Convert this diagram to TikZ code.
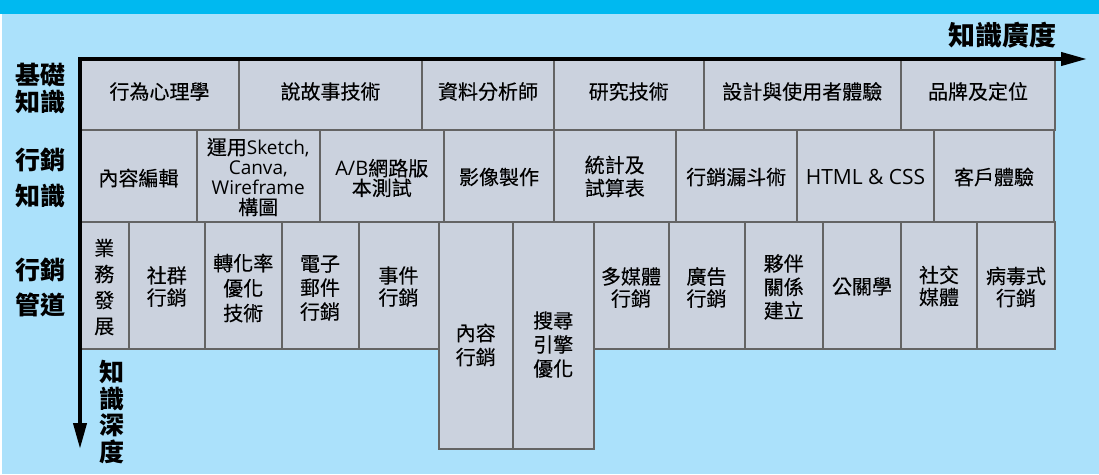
\documentclass[tikz,border=0pt]{standalone}
\usepackage{fontspec}
\setmainfont{Noto Sans CJK TC}
\newfontfamily\cellcjk{Noto Sans CJK TC}[FakeBold=0.25]
\newfontfamily\latfont{Open Sans}
\newcommand\latn[1]{{\latfont #1}}
\usetikzlibrary{arrows.meta}
\definecolor{band}{RGB}{0,185,240}
\definecolor{bg}{RGB}{171,225,251}
\definecolor{cellfill}{RGB}{203,210,222}
\definecolor{cellline}{RGB}{100,100,100}
% name, x1, y1, x2, y2, text shift, leading, text
\newcommand\cellnode[8]{%
  \node[cellstyle, minimum width={(#4)-(#2)}, minimum height={(#5)-(#3)}, anchor=north west] (#1) at (#2,#3) {};
  \node[celltext, font=\cellcjk\fontsize{20}{#7}\selectfont] (#1t) at ([yshift=#6]#1.center) {#8};
}
\begin{document}
\begin{tikzpicture}[x=1pt,y=-1pt,
  cellstyle/.style={draw=cellline, fill=cellfill, line width=2pt, inner sep=0pt, outer sep=0pt, rectangle},
  celltext/.style={inner sep=0pt, align=center, text=black},
  axislabel/.style={inner sep=0pt, align=center, text=black},
  axisline/.style={line width=4pt, line join=miter, {Triangle[length=26pt,width=13pt]}-{Triangle[length=26pt,width=13pt]}}
]
\useasboundingbox (0,0) rectangle (1099,474);
\fill[bg] (0,0) rectangle (1099,474);
\fill[white] (0,14) rectangle (2,474);
\fill[band] (0,0) rectangle (1099,14);

% row 1
\cellnode{ra}{80}{60}{239}{130}{3.5}{23}{行為心理學}
\cellnode{rb}{239}{60}{422}{130}{3.5}{23}{說故事技術}
\cellnode{rc}{422}{60}{554}{130}{3.5}{23}{資料分析師}
\cellnode{rd}{554}{60}{703.5}{130}{3.5}{23}{研究技術}
\cellnode{re}{703.5}{60}{901}{130}{3.5}{23}{設計與使用者體驗}
\cellnode{rf}{901}{60}{1055}{130}{3.5}{23}{品牌及定位}
% row 2
\cellnode{sb}{197}{130}{319.5}{222}{-1}{20}{運用{\fontsize{19}{20}\selectfont\latn{Sketch,}}\\{\fontsize{19}{20}\selectfont\latn{Canva,}}\\{\fontsize{19}{20}\selectfont\latn{Wireframe}}\\構圖}
\cellnode{sa}{80}{130}{197}{222}{-2}{23}{內容編輯}
\cellnode{sc}{319.5}{130}{444}{222}{-2}{17.5}{\latn{A/B}網路版\\本測試}
\cellnode{sd}{444}{130}{554}{222}{-1}{23}{影像製作}
\cellnode{se}{554}{130}{675.5}{222}{-0.5}{23}{統計及\\試算表}
\cellnode{sf}{675.5}{130}{797}{222}{-1}{23}{行銷漏斗術}
\cellnode{sg}{797}{130}{934}{222}{-1}{23}{{\fontsize{21}{23}\selectfont\latn{HTML \& CSS}}}
\cellnode{sh}{934}{130}{1054}{222}{-1}{23}{客戶體驗}
% row 3
\cellnode{ta}{80}{222}{128.5}{349}{-1.5}{26}{業\\務\\發\\展}
\cellnode{tb}{128.5}{222}{205}{349}{-1}{22}{社群\\行銷}
\cellnode{tc}{205}{222}{281.5}{349}{-2.5}{25}{轉化率\\優化\\技術}
\cellnode{td}{281.5}{222}{358.5}{349}{-2.5}{24}{電子\\郵件\\行銷}
\cellnode{te}{358.5}{222}{438.5}{349}{-1}{22}{事件\\行銷}
\cellnode{tf}{438.5}{222}{513}{449}{-9.5}{24}{內容\\行銷}
\cellnode{tg}{513}{222}{593.5}{449}{-9}{24}{搜尋\\引擎\\優化}
\cellnode{th}{593.5}{222}{668.5}{349}{-2}{22}{多媒體\\行銷}
\cellnode{ti}{668.5}{222}{744.5}{349}{-2}{22}{廣告\\行銷}
\cellnode{tj}{744.5}{222}{823}{349}{-1.5}{23.5}{夥伴\\關係\\建立}
\cellnode{tk}{823}{222}{901}{349}{-1}{23}{公關學}
\cellnode{tl}{901}{222}{977}{349}{-0.5}{22}{社交\\媒體}
\cellnode{tm}{977}{222}{1055}{349}{-1.5}{22}{病毒式\\行銷}

% axes
\coordinate (O) at (80,59);
\coordinate (X) at (1087,59);
\coordinate (Y) at (80,449);
\draw[axisline] (Y) -- (O) -- (X);

% labels
\node[axislabel, font=\bfseries\fontsize{25}{27}\selectfont] (lb1) at (40,88) {基礎\\知識};
\node[axislabel, font=\bfseries\fontsize{25}{36}\selectfont] (lb2) at (40,178) {行銷\\知識};
\node[axislabel, font=\bfseries\fontsize{25}{35}\selectfont] (lb3) at (40,287.5) {行銷\\管道};
\node[axislabel, font=\bfseries\fontsize{27}{30}\selectfont] (lbx) at (1002.5,35) {知識廣度};
\node[axislabel, font=\bfseries\fontsize{25}{26.5}\selectfont] (lby) at (111.5,412) {知\\識\\深\\度};
\end{tikzpicture}
\end{document}
